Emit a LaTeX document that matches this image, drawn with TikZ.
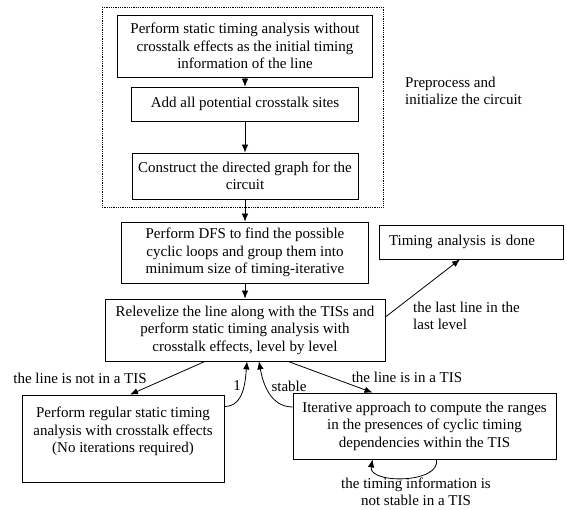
\documentclass[tikz,border=0pt]{standalone}
\usepackage{fontspec}
\setmainfont{Liberation Serif}
\usetikzlibrary{arrows.meta}
\tikzstyle{box} = [draw,line width=0.8pt,align=center,inner sep=0pt]
\tikzstyle{edge} = [draw,line width=0.8pt,-{Latex[length=8pt,width=6.5pt]}]
\tikzstyle{note} = [inner sep=0pt]

\begin{document}
\begin{tikzpicture}[x=1pt, y=1pt, font=\fontsize{15}{17.5}\selectfont]
				\useasboundingbox (0,0) rectangle (567,-510);
				\draw[densely dotted,line width=0.8pt] (102,-7) rectangle (383,-207);
				\node[box,minimum width=255pt,minimum height=62pt] (init) at (245,-46) {Perform static timing analysis without\\crosstalk effects as the initial timing\\information of the line};
				\node[box,minimum width=227pt,minimum height=34pt] (add) at (245,-104) {Add all potential crosstalk sites};
				\node[box,minimum width=226pt,minimum height=46pt] (graph) at (245,-176) {Construct the directed graph for the\\circuit};
				\node[box,minimum width=247pt,minimum height=61pt] (dfs) at (245,-252.5) {Perform DFS to find the possible\\cyclic loops and group them into\\minimum size of timing-iterative};
				\node[box,minimum width=184pt,minimum height=34pt,text width=164pt,align=left] (done) at (471,-242) {Timing analysis is done};
				\node[box,minimum width=280pt,minimum height=62pt] (rel) at (245,-330) {Relevelize the line along with the TISs and\\perform static timing analysis with\\crosstalk effects, level by level};
				\node[box,minimum width=202pt,minimum height=87pt] (reg) at (123,-438.5) {Perform regular static timing\\analysis with crosstalk effects\\(No iterations required)\\~};
				\node[box,minimum width=263pt,minimum height=66pt] (iter) at (424.5,-426) {Iterative approach to compute the ranges\\in the presences of cyclic timing\\dependencies within the TIS};

				\node[note,align=left,anchor=west] (prep) at (405,-91) {Preprocess and\\initialize the circuit};
				\node[note,align=left,anchor=west] (last) at (413,-316) {the last line in the\\last level};
				\node[note] (notin) at (80,-378) {the line is not in a TIS};
				\node[note] (isin) at (407,-377) {the line is in a TIS};
				\node[note] (one) at (237,-386) {1};
				\node[note] (stable) at (289,-386) {stable};
				\node[note,align=center] (unst) at (416,-492) {the timing information is\\not stable in a TIS};

				\foreach \source/ \dest in {init/add, add/graph, graph/dfs, dfs/rel}
				\path[edge] (\source) -- (\dest);
				\path[edge] ([yshift=13pt]rel.east) -- ([xshift=-11pt]done.south);
				\path[edge] ([xshift=-40pt]rel.south) -- ([xshift=7pt]reg.north);
				\path[edge] ([xshift=43pt]rel.south) -- ([xshift=-52pt]iter.north);
				\path[edge] ([yshift=32pt]reg.east) to[out=0,in=-95] ([xshift=2pt]rel.south);
				\path[edge] ([yshift=19pt]iter.west) to[out=180,in=-80] ([xshift=14pt]rel.south);
				\path[edge] ([xshift=12pt]iter.south) to[out=-80,in=-100] ([xshift=-52pt]iter.south);
			\end{tikzpicture}
\end{document}
